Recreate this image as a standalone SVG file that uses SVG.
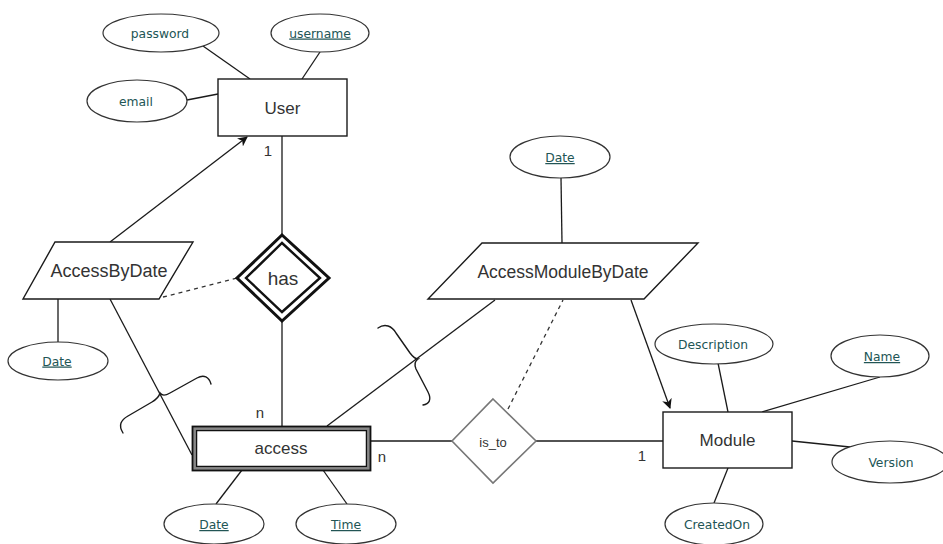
<svg xmlns="http://www.w3.org/2000/svg" width="943" height="544" viewBox="0 0 943 544">
  <defs>
    <marker id="arrow" viewBox="0 0 10 10" refX="9" refY="5" markerWidth="10" markerHeight="10" markerUnits="userSpaceOnUse" orient="auto">
      <path d="M0,0 L10,5 L0,10 L3,5 z" fill="#111"/>
    </marker>
    <style>
      .line { stroke: #1a1a1a; stroke-width: 1.3; fill: none; }
      .dash { stroke: #333; stroke-width: 1.3; fill: none; stroke-dasharray: 4 4; }
      .ent { fill: #fff; stroke: #1a1a1a; stroke-width: 1.4; }
      .attr { fill: #fff; stroke: #333; stroke-width: 1.2; }
      .atxt { font-family: "DejaVu Sans", "Liberation Sans", sans-serif; font-size: 12.3px; fill: #225555; text-anchor: middle; }
      .key { text-decoration: underline; }
      .lbl { font-family: "Liberation Sans", Arial, sans-serif; font-size: 17px; fill: #333; text-anchor: middle; }
      .card { font-family: "Liberation Sans", Arial, sans-serif; font-size: 15px; fill: #333; text-anchor: middle; }
      .brace { stroke: #1a1a1a; stroke-width: 1.4; fill: none; stroke-linecap: round; }
    </style>
  </defs>
  <rect width="943" height="544" fill="#fff"/>

  <!-- connectors -->
  <g id="connectors">
    <line class="line" x1="203" y1="46" x2="250" y2="79"/>
    <line class="line" x1="320" y1="52" x2="302" y2="79"/>
    <line class="line" x1="187" y1="100" x2="218" y2="94"/>
    <line class="line" x1="110" y1="242" x2="247" y2="137" marker-end="url(#arrow)"/>
    <line class="line" x1="282" y1="136" x2="282" y2="235"/>
    <line class="line" x1="282" y1="321" x2="282" y2="426"/>
    <line class="dash" x1="163" y1="297" x2="237" y2="278"/>
    <line class="line" x1="58" y1="299" x2="58" y2="342"/>
    <line class="line" x1="110" y1="299" x2="192" y2="455"/>
    <line class="line" x1="327" y1="426" x2="495" y2="300"/>
    <line class="line" x1="242" y1="470" x2="216" y2="504"/>
    <line class="line" x1="323" y1="470" x2="347" y2="504"/>
    <line class="line" x1="371" y1="441" x2="452" y2="441"/>
    <line class="line" x1="536" y1="441" x2="663" y2="441"/>
    <line class="dash" x1="508" y1="409" x2="563" y2="300"/>
    <line class="line" x1="631" y1="300" x2="670" y2="408" marker-end="url(#arrow)"/>
    <line class="line" x1="561" y1="178" x2="562" y2="243"/>
    <line class="line" x1="718" y1="363" x2="728" y2="412"/>
    <line class="line" x1="880" y1="377" x2="762" y2="412"/>
    <line class="line" x1="792" y1="441" x2="850" y2="447"/>
    <line class="line" x1="728" y1="468" x2="714" y2="503"/>
    <!-- braces -->
    <path class="brace" d="M123,433 C118,425 121,420 128,416 L152,402 C157,399 159,397 160,393 C162,396 165,396 170,393 L197,378 C204,374 209,377 211,384"/>
    <path class="brace" d="M378,328 C385,323 392,326 396,333 L410,353 C413,357 415,359 418,359 C415,361 414,364 416,369 L428,392 C432,400 429,404 423,405"/>
    <!-- cardinalities -->
    <text class="card" x="268" y="156">1</text>
    <text class="card" x="260" y="418">n</text>
    <text class="card" x="382" y="462">n</text>
    <text class="card" x="642" y="461">1</text>
  </g>

  <!-- entities -->
  <g id="user">
    <rect class="ent" x="218" y="79" width="129" height="57"/>
    <text class="lbl" x="282.5" y="114">User</text>
  </g>
  <g id="module">
    <rect class="ent" x="663" y="412" width="129" height="56"/>
    <text class="lbl" x="727.5" y="446">Module</text>
  </g>
  <g id="access">
    <rect x="194" y="428" width="175" height="41" fill="#fff" stroke="#888" stroke-width="3.5"/>
    <rect x="192.5" y="426.5" width="178" height="44" fill="none" stroke="#111" stroke-width="1.8"/>
    <rect x="196.5" y="430.5" width="170" height="36" fill="none" stroke="#111" stroke-width="1.5"/>
    <text class="lbl" x="281" y="454">access</text>
  </g>

  <!-- relationships -->
  <g id="has">
    <polygon points="282,235 329,278 282,321 237,278" fill="#fff" stroke="#111" stroke-width="3"/>
    <polygon points="282,243 320,278 282,312 246,278" fill="#fff" stroke="#111" stroke-width="2.4"/>
    <text class="lbl" x="283" y="285" style="font-size:19px">has</text>
  </g>
  <g id="is_to">
    <polygon points="493,399 536,441 493,483 452,441" fill="#fff" stroke="#777" stroke-width="1.6"/>
    <text class="lbl" x="493" y="447" style="font-size:13px">is_to</text>
  </g>
  <g id="access-by-date">
    <polygon class="ent" points="55,242 193,242 159,299 23,299"/>
    <text class="lbl" x="109" y="277" style="font-size:18px">AccessByDate</text>
  </g>
  <g id="access-module-by-date">
    <polygon class="ent" points="482,243 698,243 644,299 428,299"/>
    <text class="lbl" x="563" y="278" style="font-size:17.5px">AccessModuleByDate</text>
  </g>

  <!-- attributes -->
  <g id="attr-password">
    <ellipse class="attr" cx="161" cy="33" rx="58" ry="19"/>
    <text class="atxt" x="160" y="37.5">password</text>
  </g>
  <g id="attr-username">
    <ellipse class="attr" cx="320" cy="33" rx="49" ry="19"/>
    <text class="atxt key" x="320" y="37.5">username</text>
  </g>
  <g id="attr-email">
    <ellipse class="attr" cx="137" cy="101" rx="50" ry="21"/>
    <text class="atxt" x="136" y="105.5">email</text>
  </g>
  <g id="attr-abd-date">
    <ellipse class="attr" cx="58" cy="361" rx="50" ry="19"/>
    <text class="atxt key" x="57" y="365.5">Date</text>
  </g>
  <g id="attr-access-date">
    <ellipse class="attr" cx="214" cy="524" rx="50" ry="20"/>
    <text class="atxt key" x="214" y="529">Date</text>
  </g>
  <g id="attr-access-time">
    <ellipse class="attr" cx="346" cy="524" rx="50" ry="20"/>
    <text class="atxt key" x="346" y="529">Time</text>
  </g>
  <g id="attr-ambd-date">
    <ellipse class="attr" cx="560" cy="157" rx="50" ry="21"/>
    <text class="atxt key" x="560" y="162">Date</text>
  </g>
  <g id="attr-description">
    <ellipse class="attr" cx="714" cy="344" rx="59" ry="20"/>
    <text class="atxt" x="713" y="349">Description</text>
  </g>
  <g id="attr-name">
    <ellipse class="attr" cx="880" cy="356" rx="49" ry="21"/>
    <text class="atxt key" x="882" y="361">Name</text>
  </g>
  <g id="attr-version">
    <ellipse class="attr" cx="890" cy="462" rx="58" ry="21"/>
    <text class="atxt" x="891" y="467">Version</text>
  </g>
  <g id="attr-createdon">
    <ellipse class="attr" cx="714" cy="524" rx="49" ry="21"/>
    <text class="atxt" x="717" y="529">CreatedOn</text>
  </g>
</svg>
